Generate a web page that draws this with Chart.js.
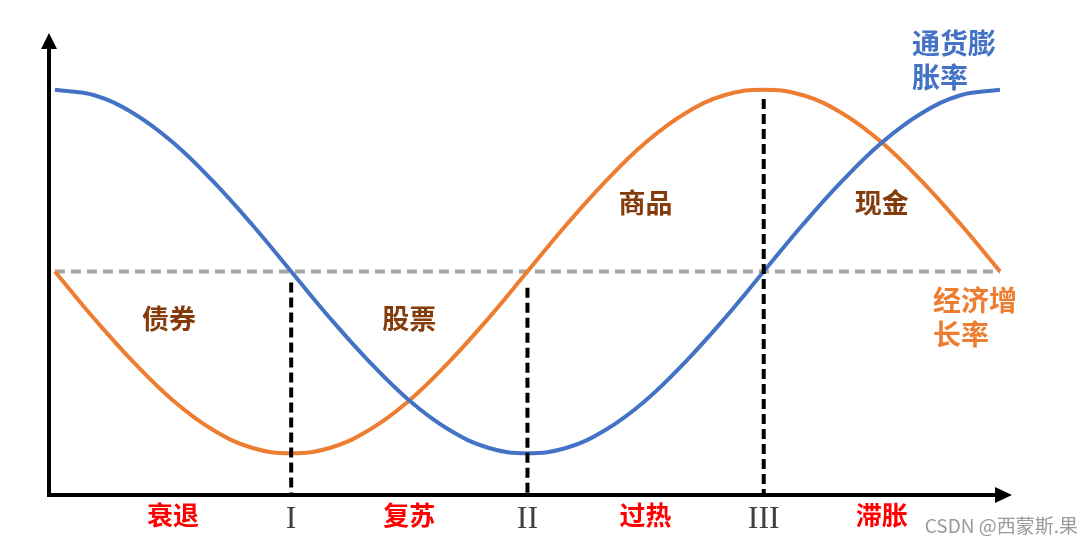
<!DOCTYPE html>
<html>
<head>
<meta charset="utf-8">
<script src="https://cdn.jsdelivr.net/npm/chart.js@4.4.1/dist/chart.umd.min.js"></script>
<style>
  body { margin: 0; background: #fff; }
  #wrap { width: 1081px; height: 543px; }
</style>
</head>
<body>
<div id="wrap"><canvas id="myChart" width="1081" height="543"></canvas></div>
<script>
// phase position along the cycle (15 degree steps)
const cyclePos = [0,1,2,3,4,5,6,7,8,9,10,11,12,13,14,15,16,17,18,19,20,21,22,23,24];
// 通货膨胀率 (blue)
const inflation = [1.00,0.97,0.87,0.71,0.50,0.26,0.00,-0.26,-0.50,-0.71,-0.87,-0.97,-1.00,-0.97,-0.87,-0.71,-0.50,-0.26,0.00,0.26,0.50,0.71,0.87,0.97,1.00];
// 经济增长率 (orange)
const growth = [0.00,-0.26,-0.50,-0.71,-0.87,-0.97,-1.00,-0.97,-0.87,-0.71,-0.50,-0.26,0.00,0.26,0.50,0.71,0.87,0.97,1.00,0.97,0.87,0.71,0.50,0.26,0.00];

// x axis labels
const tickVals = [3,6,9,12,15,18,21];
const tickLabels = ['衰退','I','复苏','II','过热','III','滞胀'];

// turning points (vertical dashed lines) and where they start
const turnX = [6,12,18];
const turnTop = [-0.06,-0.09,0.95];

// assets per phase
const assetNames = ['债券','股票','商品','现金'];
const assetX = [2.9,9,15,21];
const assetY = [-0.26,-0.26,0.38,0.38];

const seriesNames = [['通货膨','胀率'],['经济增','长率']];

const cjk = "'Noto Sans CJK SC', sans-serif";
const blue = '#4472C4';
const orange = '#ED7D31';

function toPts(xs, ys) {
  return xs.map((x,i) => ({x:x, y:ys[i]}));
}

const datasets = [
  {
    label:'通货膨胀率',
    data: toPts(cyclePos, inflation),
    borderColor: blue, borderWidth: 4, pointRadius: 0,
    tension: 0.4, order: 1
  },
  {
    label:'经济增长率',
    data: toPts(cyclePos, growth),
    borderColor: orange, borderWidth: 4, pointRadius: 0,
    tension: 0.4, order: 1
  },
  {
    label:'mid',
    data: [{x:0,y:0},{x:24,y:0}],
    borderColor:'#A6A6A6', borderWidth: 4, borderDash:[10,6], pointRadius:0, order: 2
  }
];
turnX.forEach((tx,i) => {
  datasets.push({
    label:'turn'+i,
    data:[{x:tx,y:turnTop[i]},{x:tx,y:-1.23}],
    borderColor:'#000', borderWidth:4, borderDash:[10,5], pointRadius:0, order:0
  });
});

const extras = {
  id:'extras',
  afterDraw(chart) {
    const c = chart.ctx;
    const xs = chart.scales.x, ys = chart.scales.y;
    const a = chart.chartArea;
    c.save();
    // arrows
    c.fillStyle = '#000';
    c.beginPath();
    c.moveTo(a.left, 33); c.lineTo(a.left-8, 49); c.lineTo(a.left+8, 49); c.closePath(); c.fill();
    c.beginPath();
    c.moveTo(1012, a.bottom); c.lineTo(995, a.bottom-8); c.lineTo(995, a.bottom+8); c.closePath(); c.fill();

    // asset labels
    c.font = "bold 27px " + cjk;
    c.fillStyle = '#843C0C';
    c.textAlign = 'center';
    c.textBaseline = 'middle';
    assetNames.forEach((n,i) => {
      c.fillText(n, xs.getPixelForValue(assetX[i]), ys.getPixelForValue(assetY[i]));
    });

    // series labels
    c.font = "bold 28px " + cjk;
    c.textAlign = 'left';
    c.fillStyle = blue;
    c.fillText(seriesNames[0][0], 912, 43);
    c.fillText(seriesNames[0][1], 912, 77);
    c.fillStyle = orange;
    c.fillText(seriesNames[1][0], 933, 300);
    c.fillText(seriesNames[1][1], 933, 334);

    // watermark
    c.font = "19px " + cjk;
    c.fillStyle = '#9a9a9a';
    c.textAlign = 'right';
    c.fillText('CSDN @西蒙斯.果', 1078, 526);
    c.restore();
  }
};

const ctx = document.getElementById('myChart').getContext('2d');
const myChart = new Chart(ctx, {
  type:'line',
  data:{ datasets: datasets },
  options:{
    responsive:false,
    animation:false,
    clip:false,
    layout:{ padding:{left:49, right:81, top:48, bottom:0} },
    plugins:{ legend:{display:false}, tooltip:{enabled:false} },
    scales:{
      x:{
        type:'linear', min:-0.15, max:24,
        grid:{display:false, drawTicks:false},
        border:{display:true, color:'#000', width:4},
        afterBuildTicks: s => { s.ticks = tickVals.map(v => ({value:v})); },
        afterFit: s => { s.height = 48; },
        ticks:{
          autoSkip:false, maxRotation:0, padding:5,
          callback:(v,i) => tickLabels[i],
          font: c => (c.index % 2 ? {family:"'Liberation Serif', serif", size:32} : {family:cjk, size:26, weight:'bold'}),
          color: c => (c.index % 2 ? '#404040' : '#FF0000')
        }
      },
      y:{
        min:-1.23, max:1.23,
        grid:{display:false, drawTicks:false},
        border:{display:true, color:'#000', width:4},
        ticks:{display:false}
      }
    }
  },
  plugins:[extras]
});
</script>
</body>
</html>
